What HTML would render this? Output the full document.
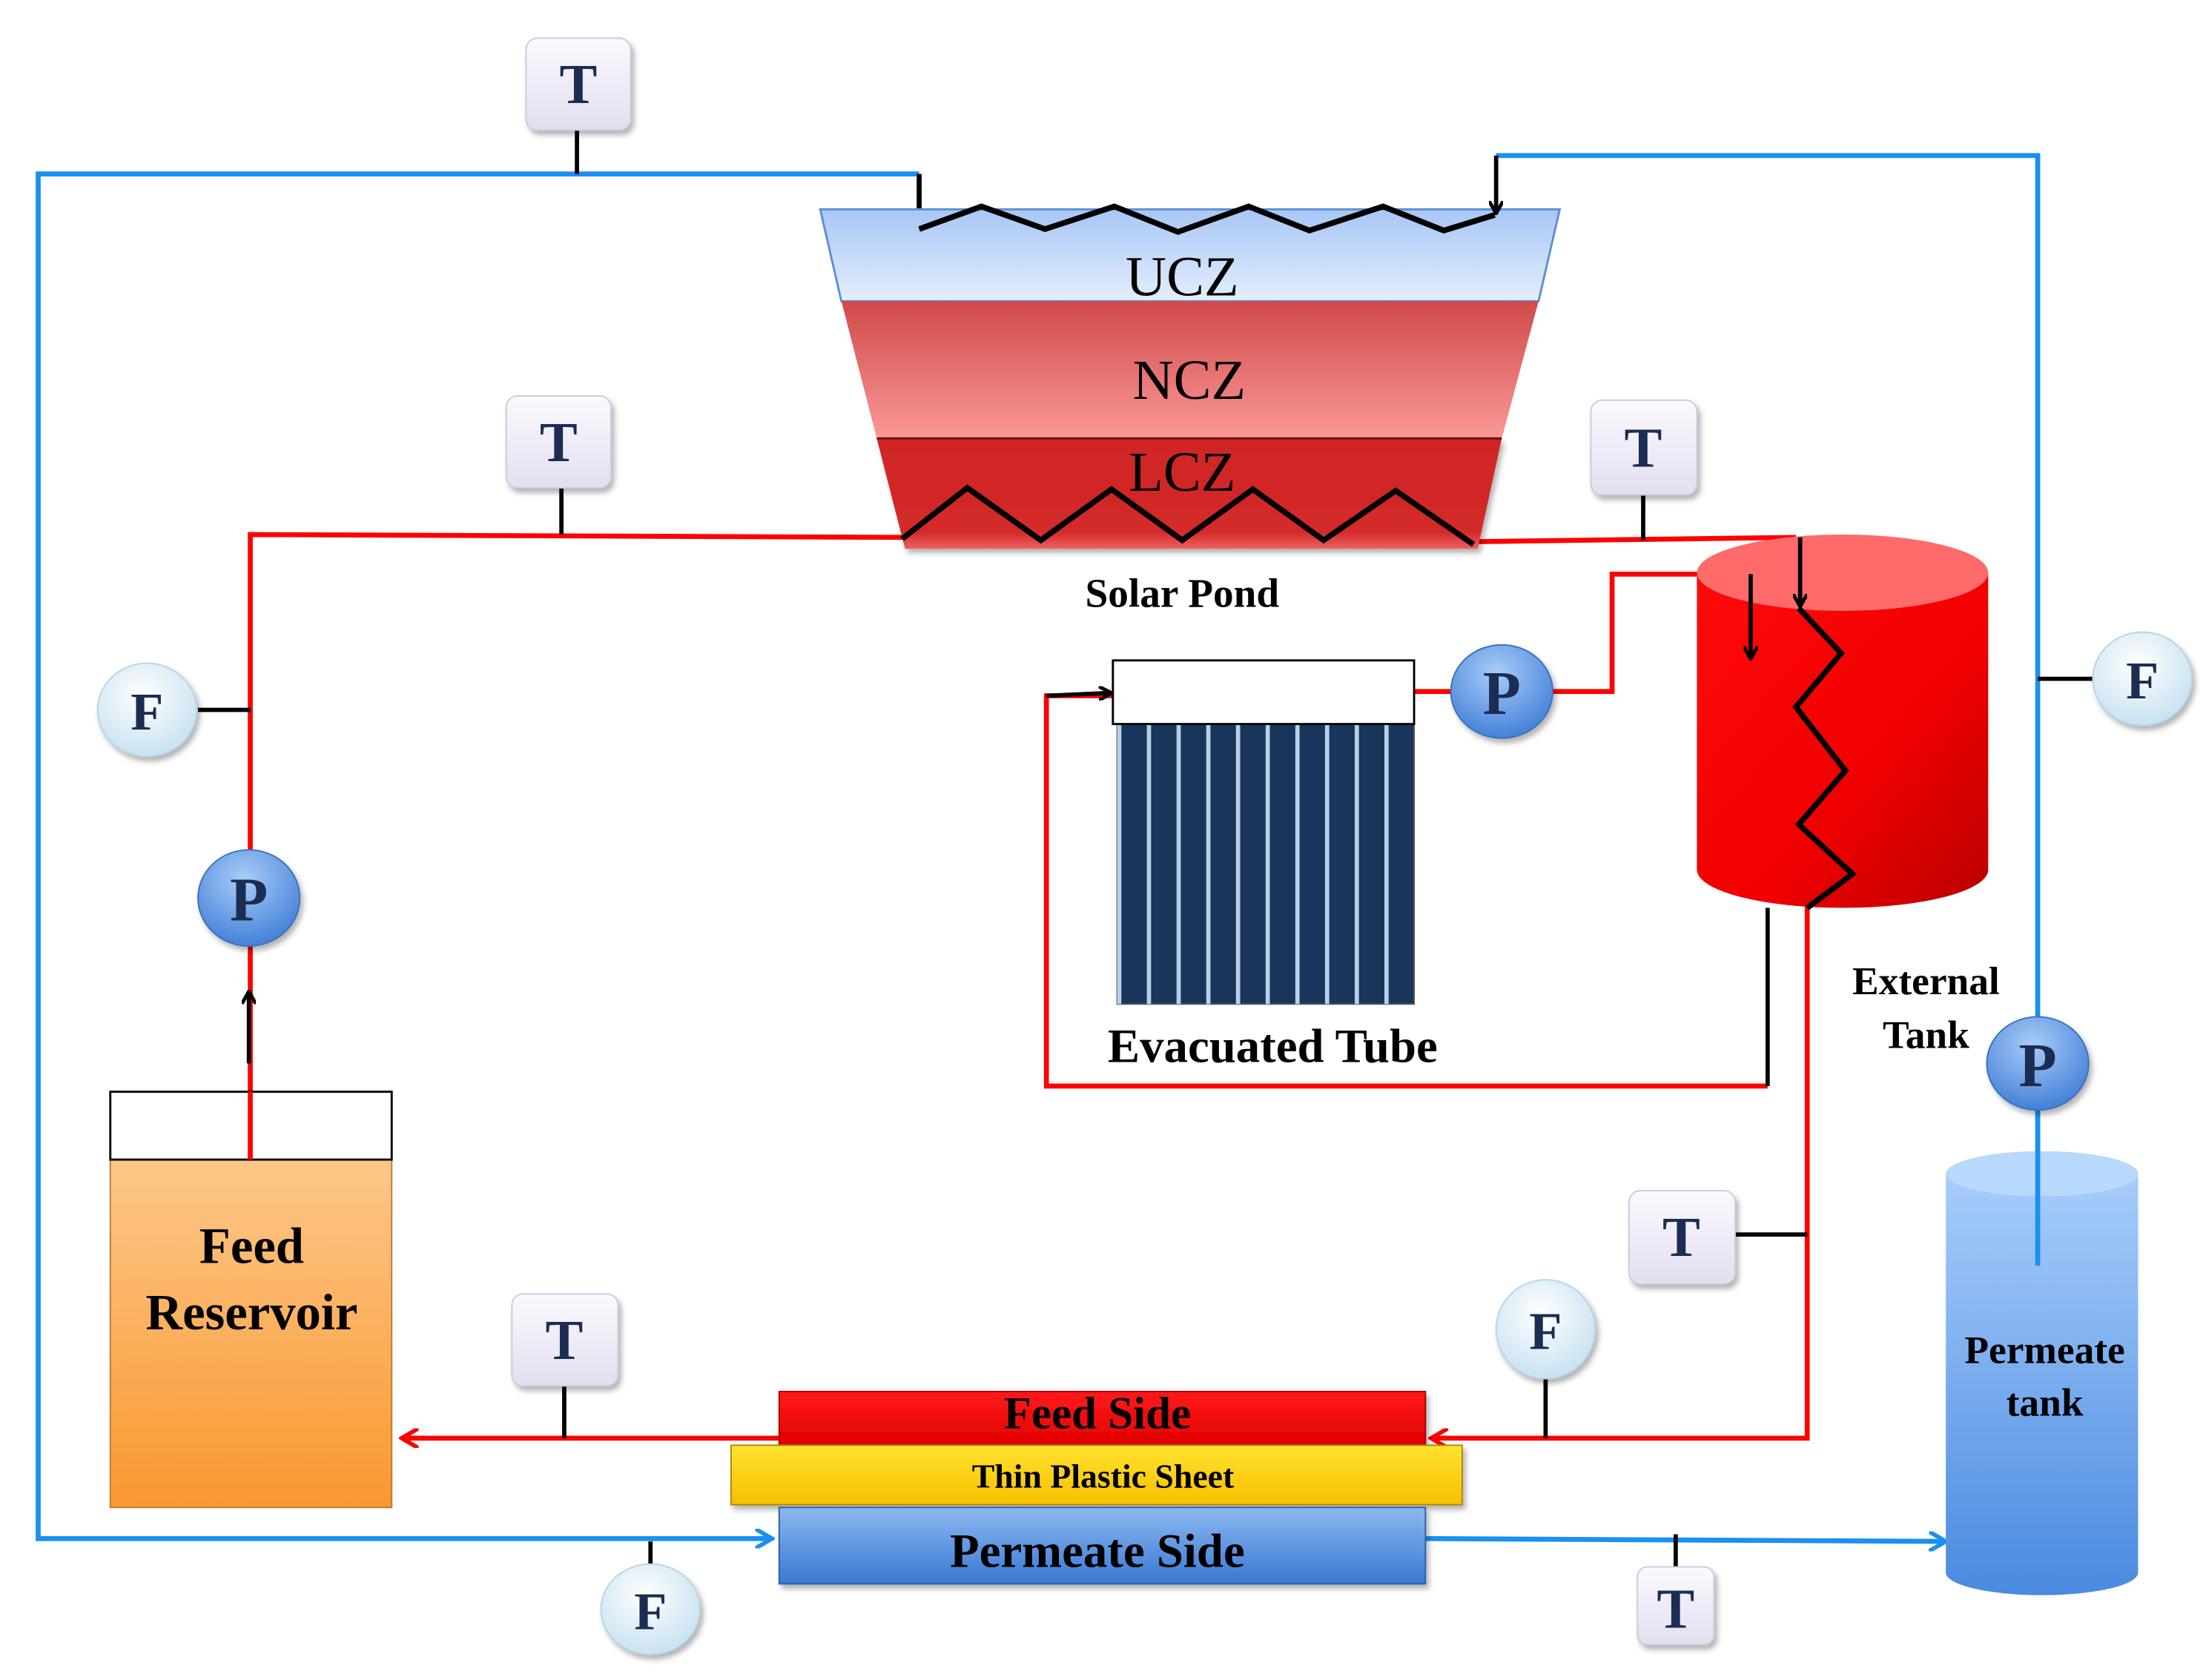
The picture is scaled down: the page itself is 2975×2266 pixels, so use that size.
<!DOCTYPE html>
<html><head><meta charset="utf-8"><style>
html,body{margin:0;padding:0;background:#fff}
svg{display:block}
text{font-family:"Liberation Serif",serif}
</style></head><body>
<svg width="2975" height="2266" viewBox="0 0 1560 1188" preserveAspectRatio="none" xmlns="http://www.w3.org/2000/svg">
<defs>
<linearGradient id="ucz" x1="0" y1="0" x2="0" y2="1"><stop offset="0" stop-color="#a8c6f5"/><stop offset="1" stop-color="#e4eefc"/></linearGradient>
<linearGradient id="ncz" x1="0" y1="0" x2="0" y2="1"><stop offset="0" stop-color="#d04a48"/><stop offset="1" stop-color="#fb9898"/></linearGradient>
<linearGradient id="lcz" x1="0" y1="0" x2="0" y2="1"><stop offset="0" stop-color="#cf2424"/><stop offset="0.85" stop-color="#d42a2a"/><stop offset="1" stop-color="#f06060"/></linearGradient>
<linearGradient id="tank" x1="0" y1="0" x2="1" y2="1"><stop offset="0" stop-color="#ff0a0a"/><stop offset="0.6" stop-color="#f00000"/><stop offset="1" stop-color="#b80000"/></linearGradient>
<linearGradient id="orange" x1="0" y1="0" x2="0" y2="1"><stop offset="0" stop-color="#fdc78a"/><stop offset="1" stop-color="#f9982f"/></linearGradient>
<linearGradient id="perm" x1="0" y1="0" x2="0" y2="1"><stop offset="0" stop-color="#a7cdfb"/><stop offset="1" stop-color="#4a8ae0"/></linearGradient>
<linearGradient id="pside" x1="0" y1="0" x2="0" y2="1"><stop offset="0" stop-color="#8bb8ef"/><stop offset="1" stop-color="#3a78d4"/></linearGradient>
<linearGradient id="yel" x1="0" y1="0" x2="0" y2="1"><stop offset="0" stop-color="#ffe230"/><stop offset="1" stop-color="#f8c000"/></linearGradient>
<linearGradient id="feeds" x1="0" y1="0" x2="0" y2="1"><stop offset="0" stop-color="#ff1a1a"/><stop offset="1" stop-color="#e00000"/></linearGradient>
<linearGradient id="tbox" x1="0" y1="0" x2="0" y2="1"><stop offset="0" stop-color="#fbf9fe"/><stop offset="1" stop-color="#e3def0"/></linearGradient>
<radialGradient id="fc" cx="0.45" cy="0.35" r="0.7"><stop offset="0" stop-color="#ffffff"/><stop offset="1" stop-color="#c4dff0"/></radialGradient>
<radialGradient id="pc" cx="0.45" cy="0.3" r="0.75"><stop offset="0" stop-color="#a8cdf8"/><stop offset="1" stop-color="#3d7bd6"/></radialGradient>
<marker id="ab" markerWidth="10" markerHeight="10" refX="8" refY="5" orient="auto" markerUnits="userSpaceOnUse"><path d="M0,0 L9,5 L0,10" fill="none" stroke="#000" stroke-width="2.5"/></marker>
<marker id="ar" markerWidth="14" markerHeight="14" refX="12" refY="7" orient="auto" markerUnits="userSpaceOnUse"><path d="M0,0 L12,7 L0,14" fill="none" stroke="#f00" stroke-width="3"/></marker>
<marker id="abl" markerWidth="14" markerHeight="14" refX="12" refY="7" orient="auto" markerUnits="userSpaceOnUse"><path d="M0,0 L12,7 L0,14" fill="none" stroke="#1a90f0" stroke-width="3"/></marker>
<filter id="sh" x="-20%" y="-20%" width="150%" height="150%"><feDropShadow dx="2" dy="3" stdDeviation="2" flood-color="#000" flood-opacity="0.3"/></filter>
</defs>

<!-- Blue lines -->
<g fill="none" stroke="#1a90f0" stroke-width="3.5">
<polyline points="650,123 27,123 27,1088 546,1088" marker-end="url(#abl)"/>
<polyline points="1058,110 1441,110 1441,895"/>
<polyline points="1008,1088 1376,1090" marker-end="url(#abl)"/>
</g>
<line x1="650" y1="123" x2="650" y2="162" stroke="#000" stroke-width="3.5"/>

<!-- Red lines -->
<g fill="none" stroke="#f00" stroke-width="3.5">
<polyline points="640,380 177,378 177,820"/>
<polyline points="1045,383 1270,380"/>
<polyline points="1000,489 1140,489 1140,406 1238,406"/>
<polyline points="787,492 740,492 740,768 1250,768"/>
<polyline points="1278,640 1278,1017 1012,1017" marker-end="url(#ar)"/>
<polyline points="551,1017 284,1017" marker-end="url(#ar)"/>
</g>

<!-- Solar pond -->
<polygon points="580,148 1103,148 1088,213 595,213" fill="url(#ucz)" stroke="#5b8fd0" stroke-width="1.5"/>
<polygon points="595,213 1088,213 1062,310 620,310" fill="url(#ncz)"/>
<polygon points="620,310 1062,310 1045,388 640,388" fill="url(#lcz)" filter="url(#sh)"/>
<line x1="620" y1="310" x2="1062" y2="310" stroke="#6a1010" stroke-width="1.5"/>
<polyline points="650,162 694,146 739,162 788,146 833,164 883,146 926,163 978,146 1021,163 1057,152" fill="none" stroke="#000" stroke-width="4"/>
<line x1="1058" y1="110" x2="1058" y2="150" stroke="#000" stroke-width="3" marker-end="url(#ab)"/>
<polyline points="638,381 684,345 736,382 786,346 836,382 886,346 936,382 987,347 1042,385" fill="none" stroke="#000" stroke-width="4"/>
<text x="836" y="209" font-size="40" text-anchor="middle" fill="#000">UCZ</text>
<text x="841" y="282" font-size="40" text-anchor="middle" fill="#000">NCZ</text>
<text x="836" y="347" font-size="40" text-anchor="middle" fill="#000">LCZ</text>
<text x="836" y="429" font-size="29" font-weight="bold" text-anchor="middle">Solar Pond</text>

<!-- Evacuated tube -->
<rect x="790" y="512" width="210" height="198" fill="#1a355c" stroke="#555" stroke-width="1"/>
<g fill="#b8cfe6">
<rect x="790" y="512" width="3" height="198"/><rect x="811" y="512" width="3" height="198"/><rect x="832" y="512" width="3" height="198"/><rect x="853" y="512" width="3" height="198"/><rect x="874" y="512" width="3" height="198"/><rect x="895" y="512" width="3" height="198"/><rect x="916" y="512" width="3" height="198"/><rect x="937" y="512" width="3" height="198"/><rect x="958" y="512" width="3" height="198"/><rect x="979" y="512" width="3" height="198"/>
</g>
<rect x="787" y="467" width="213" height="45" fill="#fff" stroke="#000" stroke-width="1.5"/>
<line x1="740" y1="492" x2="785" y2="490" stroke="#000" stroke-width="3" marker-end="url(#ab)"/>
<text x="900" y="751" font-size="34" font-weight="bold" text-anchor="middle">Evacuated Tube</text>

<!-- External tank -->
<path d="M1200,405 L1200,615 A103,27 0 0 0 1406,615 L1406,405 Z" fill="url(#tank)"/>
<ellipse cx="1303" cy="405" rx="103" ry="27" fill="#ff6a6a"/>
<line x1="1238" y1="406" x2="1238" y2="465" stroke="#000" stroke-width="3" marker-end="url(#ab)"/>
<line x1="1273" y1="380" x2="1273" y2="428" stroke="#000" stroke-width="3" marker-end="url(#ab)"/>
<polyline points="1272,430 1302,462 1270,500 1305,545 1272,583 1310,618 1278,642" fill="none" stroke="#000" stroke-width="4"/>
<line x1="1250" y1="642" x2="1250" y2="768" stroke="#000" stroke-width="3"/>
<text x="1362" y="703" font-size="28" font-weight="bold" text-anchor="middle">External</text>
<text x="1362" y="741" font-size="28" font-weight="bold" text-anchor="middle">Tank</text>

<!-- Feed reservoir -->
<rect x="78" y="820" width="199" height="246" fill="url(#orange)" stroke="#c07a30" stroke-width="1"/>
<rect x="78" y="772" width="199" height="48" fill="#fff" stroke="#000" stroke-width="1.5"/>
<line x1="177" y1="772" x2="177" y2="820" stroke="#f00" stroke-width="3.5"/>
<line x1="176" y1="752" x2="176" y2="702" stroke="#000" stroke-width="3" marker-end="url(#ab)"/>
<text x="178" y="893" font-size="36" font-weight="bold" text-anchor="middle">Feed</text>
<text x="178" y="940" font-size="36" font-weight="bold" text-anchor="middle">Reservoir</text>

<!-- Permeate tank -->
<path d="M1376,830 L1376,1112 A68,16 0 0 0 1512,1112 L1512,830 Z" fill="url(#perm)"/>
<ellipse cx="1444" cy="830" rx="68" ry="16" fill="#b9d9fc"/>
<line x1="1441" y1="752" x2="1441" y2="895" stroke="#1a90f0" stroke-width="3.5"/>
<text x="1446" y="964" font-size="28" font-weight="bold" text-anchor="middle">Permeate</text>
<text x="1446" y="1001" font-size="28" font-weight="bold" text-anchor="middle">tank</text>

<!-- Membrane -->
<rect x="551" y="984" width="457" height="38" fill="url(#feeds)" stroke="#a00" stroke-width="1" filter="url(#sh)"/>
<rect x="517" y="1022" width="517" height="42" fill="url(#yel)" stroke="#b08800" stroke-width="1" filter="url(#sh)"/>
<rect x="551" y="1066" width="457" height="54" fill="url(#pside)" stroke="#2a5fa8" stroke-width="1" filter="url(#sh)"/>
<text x="776" y="1010" font-size="32" font-weight="bold" text-anchor="middle">Feed Side</text>
<text x="780" y="1052" font-size="24" font-weight="bold" text-anchor="middle">Thin Plastic Sheet</text>
<text x="776" y="1108" font-size="34" font-weight="bold" text-anchor="middle">Permeate Side</text>

<!-- sensor stems -->
<g stroke="#000" stroke-width="3">
<line x1="408" y1="92" x2="408" y2="123"/>
<line x1="397" y1="345" x2="397" y2="378"/>
<line x1="1162" y1="350" x2="1162" y2="382"/>
<line x1="140" y1="502" x2="177" y2="502"/>
<line x1="1441" y1="480" x2="1480" y2="480"/>
<line x1="1227" y1="873" x2="1278" y2="873"/>
<line x1="399" y1="980" x2="399" y2="1017"/>
<line x1="1093" y1="975" x2="1093" y2="1017"/>
<line x1="460" y1="1090" x2="460" y2="1106"/>
<line x1="1185" y1="1085" x2="1185" y2="1108"/>
</g>

<!-- T boxes -->
<g filter="url(#sh)" fill="url(#tbox)" stroke="#d0cadc" stroke-width="1">
<rect x="372" y="27" width="74" height="65" rx="8"/>
<rect x="358" y="280" width="74" height="65" rx="8"/>
<rect x="1125" y="283" width="75" height="67" rx="8"/>
<rect x="1152" y="842" width="75" height="66" rx="8"/>
<rect x="362" y="915" width="75" height="65" rx="8"/>
<rect x="1158" y="1108" width="54" height="55" rx="7"/>
</g>
<g font-size="40" font-weight="bold" fill="#1b2d52" text-anchor="middle">
<text x="409" y="73">T</text>
<text x="395" y="326">T</text>
<text x="1162" y="330">T</text>
<text x="1189" y="888">T</text>
<text x="399" y="961">T</text>
<text x="1185" y="1151">T</text>
</g>

<!-- F circles -->
<g filter="url(#sh)" fill="url(#fc)" stroke="#b8d4e8" stroke-width="1">
<ellipse cx="104" cy="502" rx="35" ry="33"/>
<ellipse cx="1515" cy="480" rx="35" ry="33"/>
<ellipse cx="1093" cy="940" rx="35" ry="35"/>
<ellipse cx="460" cy="1138" rx="35" ry="32"/>
</g>
<g font-size="38" font-weight="bold" fill="#1b2d52" text-anchor="middle">
<text x="104" y="516">F</text>
<text x="1515" y="494">F</text>
<text x="1093" y="954">F</text>
<text x="460" y="1152">F</text>
</g>

<!-- P circles -->
<g filter="url(#sh)" fill="url(#pc)" stroke="#3a70c0" stroke-width="1">
<ellipse cx="176" cy="635" rx="36" ry="34"/>
<ellipse cx="1062" cy="489" rx="36" ry="33"/>
<ellipse cx="1441" cy="752" rx="36" ry="33"/>
</g>
<g font-size="44" font-weight="bold" fill="#1b2d52" text-anchor="middle">
<text x="176" y="651">P</text>
<text x="1062" y="505">P</text>
<text x="1441" y="768">P</text>
</g>
</svg>
</body></html>
